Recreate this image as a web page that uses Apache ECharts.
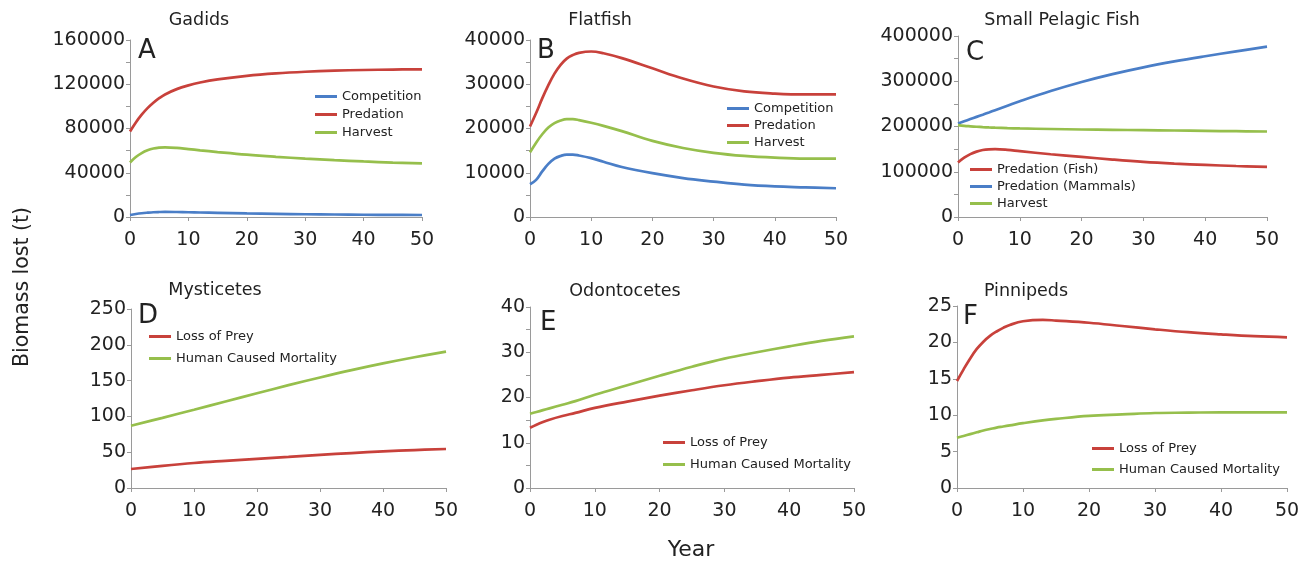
<!DOCTYPE html>
<html>
<head>
<meta charset="utf-8">
<script src="https://cdn.jsdelivr.net/npm/echarts@6/dist/echarts.min.js"></script>
<style>html,body{margin:0;padding:0;background:#fff}#c{width:1307px;height:562px}</style>
</head>
<body>
<div id="c"></div>
<script>
// ---------- DATA ----------
const gadYears = [0,1,2,3,4,5,6,8,10,12,15,20,25,30,35,40,45,50];
const gadCompetition = [1800,2700,3400,3900,4300,4500,4600,4500,4300,4050,3700,3200,2800,2500,2250,2050,1900,1800];
const gadPredation = [77300,85500,92500,98400,103300,107400,110800,115600,119000,121600,124400,127600,129800,131300,132300,132900,133300,133500];
const gadHarvest = [49300,54200,57800,60300,61900,62700,63000,62500,61400,60300,58700,56300,54400,52800,51400,50200,49200,48400];

const flatYears = [0,1,2,3,4,5,6,7,8,10,12,15,20,25,30,35,40,45,50];
const flatCompetition = [7400,8400,10300,12000,13200,13800,14100,14100,13900,13300,12500,11300,9900,8800,8000,7300,6900,6700,6500];
const flatPredation = [20450,23500,26800,29800,32400,34400,35800,36600,37100,37400,37000,35900,33600,31300,29500,28400,27900,27700,27700];
const flatHarvest = [14600,16800,18700,20200,21200,21800,22100,22100,21900,21300,20600,19400,17200,15600,14500,13800,13400,13200,13200];

const pelYears = [0,1,2,3,4,5,6,8,10,15,20,25,30,35,40,45,50];
const pelPredFish = [120300,131000,139000,144500,148000,149500,149800,148300,145400,138700,132800,126900,121800,118000,115100,112700,110700];
const pelPredMammals = [206600,211500,216400,221300,226100,231000,236000,246000,256000,278500,298500,315800,330800,343800,355300,366000,376400];
const pelHarvest = [203000,201500,200400,199400,198600,197900,197300,196400,195700,194500,193400,192600,191900,191200,190400,189600,188900];

const mysYears = [0,5,10,15,20,25,30,35,40,45,50];
const mysLossPrey = [26.5,31.0,34.9,37.9,40.7,43.5,46.3,48.8,51.1,53.0,54.5];
const mysHuman = [87.0,98.0,109.3,120.8,132.3,143.6,154.4,164.6,174.0,182.6,190.5];

const odoYears = [0,1,2,3,5,7,10,15,20,25,30,35,40,45,50];
const odoLossPrey = [13.3,14.0,14.6,15.1,15.9,16.6,17.7,19.1,20.4,21.6,22.7,23.6,24.4,25.0,25.6];
const odoHuman = [16.4,16.8,17.2,17.6,18.4,19.2,20.6,22.7,24.8,26.8,28.6,30.0,31.3,32.5,33.5];

const pinYears = [0,1,2,3,4,5,6,7,8,10,13,15,20,25,30,35,40,45,50];
const pinLossPrey = [14.7,16.3,17.8,19.1,20.1,20.9,21.5,22.0,22.4,22.9,23.1,23.0,22.7,22.25,21.8,21.4,21.1,20.85,20.7];
const pinHuman = [6.9,7.15,7.4,7.65,7.9,8.1,8.3,8.45,8.6,8.9,9.3,9.5,9.9,10.1,10.3,10.35,10.4,10.4,10.4];

const panelTitles = ['Gadids','Flatfish','Small Pelagic Fish','Mysticetes','Odontocetes','Pinnipeds'];
const panelLetters = ['A','B','C','D','E','F'];
const yMax = [160000,40000,400000,250,40,25];
const yStep = [40000,10000,100000,50,10,5];
const xTicks = [0,10,20,30,40,50];
const yAxisTitle = 'Biomass lost (t)';
const xAxisTitle = 'Year';

// ---------- STYLE / LAYOUT ----------
const FONT = 'DejaVu Sans';
const TXT = '#222';
const AX = '#9a9a9a';
const BLUE = '#4A7EC7', RED = '#C8413B', GREEN = '#96BF4C';

const panels = [
  {years:gadYears, series:[['Competition',gadCompetition,BLUE],['Predation',gadPredation,RED],['Harvest',gadHarvest,GREEN]],
   grid:{left:130,top:40,width:292,height:177}, minor:true,
   legend:{left:315,top:90,gap:5}, title:[199,20], letter:[138,51]},
  {years:flatYears, series:[['Competition',flatCompetition,BLUE],['Predation',flatPredation,RED],['Harvest',flatHarvest,GREEN]],
   grid:{left:530,top:40,width:306,height:177}, minor:true,
   legend:{left:727,top:102,gap:4}, title:[600,20], letter:[537,51.5]},
  {years:pelYears, series:[['Predation (Fish)',pelPredFish,RED],['Predation (Mammals)',pelPredMammals,BLUE],['Harvest',pelHarvest,GREEN]],
   grid:{left:958,top:36,width:309,height:181}, minor:true,
   legend:{left:970,top:163,gap:4}, title:[1062,20], letter:[966,53.5]},
  {years:mysYears, series:[['Loss of Prey',mysLossPrey,RED],['Human Caused Mortality',mysHuman,GREEN]],
   grid:{left:131,top:309,width:315,height:179}, minor:false,
   legend:{left:149,top:330,gap:9}, title:[215,290.5], letter:[138,316.5]},
  {years:odoYears, series:[['Loss of Prey',odoLossPrey,RED],['Human Caused Mortality',odoHuman,GREEN]],
   grid:{left:530,top:307,width:324,height:181}, minor:true,
   legend:{left:663,top:436,gap:9}, title:[625,291], letter:[540,323.5]},
  {years:pinYears, series:[['Loss of Prey',pinLossPrey,RED],['Human Caused Mortality',pinHuman,GREEN]],
   grid:{left:957,top:306,width:330,height:182}, minor:false,
   legend:{left:1092,top:442,gap:8}, title:[1026,291], letter:[963,317.5]}
];

const grids=[], xAxes=[], yAxes=[], series=[], legends=[], graphics=[];
panels.forEach((p,i)=>{
  grids.push(Object.assign({containLabel:false}, p.grid));
  xAxes.push({type:'value', gridIndex:i, min:xTicks[0], max:xTicks[xTicks.length-1], interval:xTicks[1]-xTicks[0],
    axisLine:{show:true,lineStyle:{color:AX,width:1}}, axisTick:{show:true,length:4,lineStyle:{color:AX}},
    splitLine:{show:false}, axisLabel:{fontFamily:FONT,fontSize:19,color:TXT,margin:14,formatter:v=>String(v)}});
  yAxes.push({type:'value', gridIndex:i, min:0, max:yMax[i], interval:yStep[i],
    axisLine:{show:true,lineStyle:{color:AX,width:1}}, axisTick:{show:true,length:4,lineStyle:{color:AX}},
    minorTick:{show:p.minor,splitNumber:2,length:4,lineStyle:{color:AX}},
    splitLine:{show:false}, axisLabel:{fontFamily:FONT,fontSize:19,color:TXT,margin:5,formatter:v=>String(v)}});
  p.series.forEach(([name,vals,color])=>{
    series.push({type:'line', name, xAxisIndex:i, yAxisIndex:i, smooth:0.4, showSymbol:false, symbol:'none',
      data:p.years.map((y,k)=>[y,vals[k]]), lineStyle:{width:2.7,color}, itemStyle:{color}, z:3});
  });
  legends.push({orient:'vertical', left:p.legend.left, top:p.legend.top, itemGap:p.legend.gap, padding:0,
    itemWidth:22, itemHeight:3, icon:'rect', selectedMode:false,
    textStyle:{fontFamily:FONT,fontSize:13,color:TXT},
    data:p.series.map(s=>s[0])});
  graphics.push({type:'text', x:p.title[0], y:p.title[1], style:{text:panelTitles[i], font:'17.5px "'+FONT+'"', fill:TXT, textAlign:'center', textVerticalAlign:'middle'}});
  graphics.push({type:'text', x:p.letter[0], y:p.letter[1], style:{text:panelLetters[i], font:'26px "'+FONT+'"', fill:TXT, textAlign:'left', textVerticalAlign:'middle'}});
});
graphics.push({type:'text', x:691, y:550.5, style:{text:xAxisTitle, font:'22px "'+FONT+'"', fill:TXT, textAlign:'center', textVerticalAlign:'middle'}});
graphics.push({type:'text', x:23, y:287, rotation:Math.PI/2, style:{text:yAxisTitle, font:'20.5px "'+FONT+'"', fill:TXT, textAlign:'center', textVerticalAlign:'middle'}});

const chart = echarts.init(document.getElementById('c'), null, {renderer:'canvas'});
chart.setOption({
  animation:false, backgroundColor:'#fff',
  grid:grids, xAxis:xAxes, yAxis:yAxes, series, legend:legends, graphic:graphics
});
</script>
</body>
</html>
